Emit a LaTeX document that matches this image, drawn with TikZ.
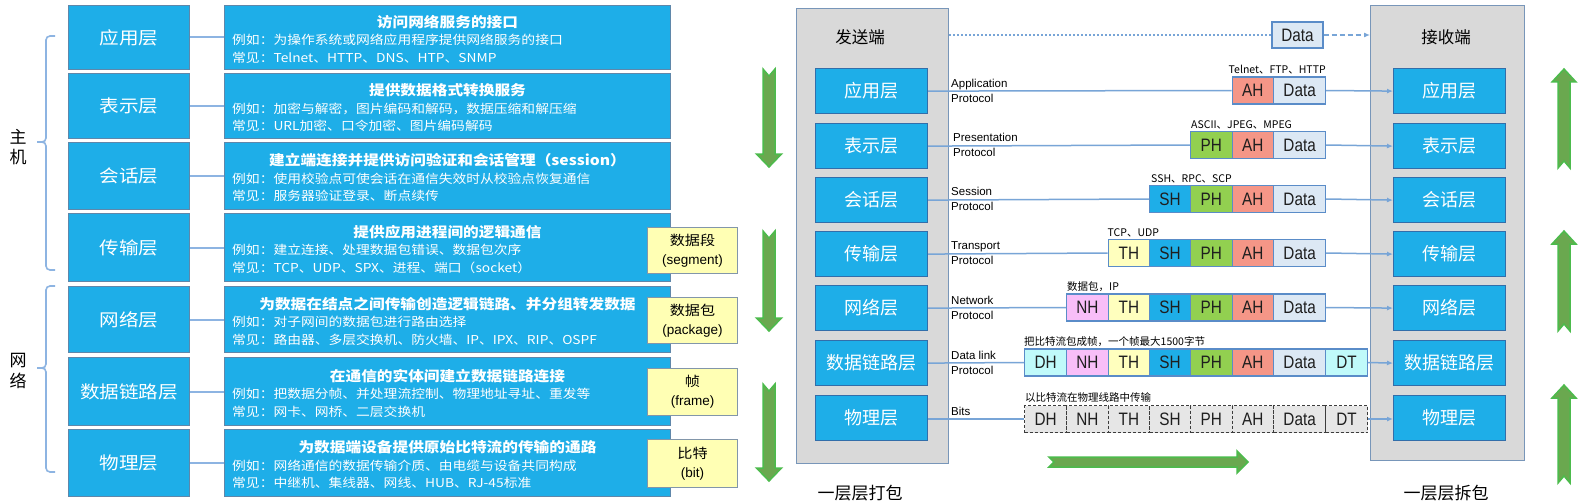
\documentclass[tikz,border=0pt]{standalone}
\usepackage{fontspec}
\setmainfont{Liberation Sans}
\newfontfamily\cjk{Noto Sans CJK SC}
\newfontfamily\cjkw[FakeStretch=1.12]{Noto Sans CJK SC}
\newfontfamily\narrow[FakeStretch=0.85]{Liberation Sans}
\usetikzlibrary{arrows.meta}

\definecolor{blueF}{RGB}{30,174,232}
\definecolor{blueB}{RGB}{95,135,170}
\definecolor{connC}{RGB}{141,180,226}
\definecolor{yelF}{RGB}{255,255,180}
\definecolor{yelB}{RGB}{130,150,170}
\definecolor{grayF}{RGB}{217,217,217}
\definecolor{grayB}{RGB}{120,150,185}
\definecolor{grnF}{RGB}{106,168,79}
\definecolor{grnB}{RGB}{76,187,76}
\definecolor{ahC}{RGB}{245,150,135}
\definecolor{phC}{RGB}{146,208,80}
\definecolor{thC}{RGB}{255,255,190}
\definecolor{nhC}{RGB}{248,190,248}
\definecolor{dhC}{RGB}{192,250,250}
\definecolor{daC}{RGB}{220,232,244}
\definecolor{cellB}{RGB}{90,140,200}
\definecolor{lineC}{RGB}{120,165,215}
\definecolor{bitF}{RGB}{230,230,230}

\newcommand\myfs[1]{\fontsize{#1}{#1}\selectfont}

\newcommand\leftrow[7]{%
\node[lbox,minimum width=121,minimum height={#3-#2},anchor=north west,font=\cjkw\myfs{17.5}] (L#1) at (68,#2) {#4};
\node[lbox,minimum width=446,minimum height={#3-#2},anchor=north west] (D#1) at (224,#2) {};
\draw[connL] (L#1.east) -- (D#1.west);
\node[wtext,font=\cjkw\bfseries\myfs{14}] (T#1) at ([yshift=15.5]D#1.center) {#5};
\node[wtext,anchor=west,font=\cjkw\myfs{12.3}] (E#1) at ([xshift=8,yshift=-2.5]D#1.west) {#6};
\node[wtext,anchor=west,font=\cjkw\myfs{12.3}] (C#1) at ([xshift=8,yshift=-20]D#1.west) {#7};
}

\newcommand\sidebox[4]{%
\node[sbox,minimum width=112,minimum height=45,anchor=north west] (#1) at (#2,#3) {#4};
}

\newcommand\pcell[6]{%
\node[cellbase,#5,minimum width={#3-#2},anchor=west] (#1) at (#2,#4) {#6};
}

\newcommand\garrowdown[3]{%
\filldraw[garrow] (#1-6,#2) -- (#1,#2+7) -- (#1+6,#2) -- (#1+6,#3-13) -- (#1+12.5,#3-13) -- (#1,#3) -- (#1-12.5,#3-13) -- (#1-6,#3-13) -- cycle;}
\newcommand\garrowup[3]{%
\filldraw[garrow] (#1-6,#3) -- (#1,#3-7) -- (#1+6,#3) -- (#1+6,#2+13) -- (#1+12,#2+13) -- (#1,#2) -- (#1-12,#2+13) -- (#1-6,#2+13) -- cycle;}

\begin{document}
\begin{tikzpicture}[x=1pt,y=-1pt,
  lbox/.style={rectangle,fill=blueF,draw=blueB,line width=1,inner sep=0,text=white},
  wtext/.style={text=white,inner sep=0},
  connL/.style={draw=connC,line width=2},
  ybox/.style={rectangle,fill=yelF,draw=yelB,line width=1,inner sep=0,align=center,
     minimum width=90,font=\fontsize{13.5}{19}\selectfont},
  brace/.style={draw=connC,line width=1.6,rounded corners=4},
  garrow/.style={fill=grnF,draw=grnB,line width=1.5},
  gbox/.style={rectangle,fill=grayF,draw=grayB,line width=1,inner sep=0},
  sbox/.style={rectangle,fill=blueF,draw={rgb,255:red,50;green,110;blue,170},line width=1.2,inner sep=0,text=white,font=\cjk\myfs{18}},
  cellbase/.style={rectangle,draw=cellB,line width=1.2,inner sep=0,minimum height=27,font=\narrow\myfs{18},text={rgb,255:red,30;green,30;blue,30}},
  bitcell/.style={fill=bitF,draw={rgb,255:red,60;green,60;blue,60},dash pattern=on 3pt off 2pt},
  pline/.style={draw=lineC,line width=1.5},
  parrow/.style={draw=lineC,line width=1.5,-{Latex[length=6,width=5]}},
  plabel/.style={anchor=west,align=left,inner sep=0,font=\fontsize{11.5}{15}\selectfont},
  toptext/.style={anchor=south west,inner sep=0,font=\cjk\myfs{10.5}},
]
\useasboundingbox (0,0) rectangle (1585,503);
\fill[white] (0,0) rectangle (1585,503);

% ---------------- left part ----------------
\leftrow{1}{5}{69}{应用层}{访问网络服务的接口}{例如：为操作系统或网络应用程序提供网络服务的接口}{常见：Telnet、HTTP、DNS、HTP、SNMP}
\leftrow{2}{73}{138}{表示层}{提供数据格式转换服务}{例如：加密与解密，图片编码和解码，数据压缩和解压缩}{常见：URL加密、口令加密、图片编码解码}
\leftrow{3}{142}{209}{会话层}{建立端连接并提供访问验证和会话管理（session）}{例如：使用校验点可使会话在通信失效时从校验点恢复通信}{常见：服务器验证登录、断点续传}
\leftrow{4}{213}{281}{传输层}{提供应用进程间的逻辑通信}{例如：建立连接、处理数据包错误、数据包次序}{常见：TCP、UDP、SPX、进程、端口（socket）}
\leftrow{5}{286}{352}{网络层}{为数据在结点之间传输创造逻辑链路、并分组转发数据}{例如：对子网间的数据包进行路由选择}{常见：路由器、多层交换机、防火墙、IP、IPX、RIP、OSPF}
\leftrow{6}{357}{425}{数据链路层}{在通信的实体间建立数据链路连接}{例如：把数据分帧、并处理流控制、物理地址寻址、重发等}{常见：网卡、网桥、二层交换机}
\leftrow{7}{429}{496}{物理层}{为数据端设备提供原始比特流的传输的通路}{例如：网络通信的数据传输介质、由电缆与设备共同构成}{常见：中继机、集线器、网线、HUB、RJ-45标准}

\node[ybox,minimum height=46,anchor=north west] (Y4) at (647,227) {{\cjkw 数据段}\\(segment)};
\node[ybox,minimum height=46,anchor=north west] (Y5) at (647,297) {{\cjkw 数据包}\\(package)};
\node[ybox,minimum height=47,anchor=north west] (Y6) at (647,368) {{\cjkw 帧}\\(frame)};
\node[ybox,minimum height=48,anchor=north west] (Y7) at (647,439) {{\cjkw 比特}\\(bit)};

% braces and group labels
\draw[brace] (55,36) -- (46,36) -- (46,142) -- (37,142);
\draw[brace] (37,142) -- (46,142) -- (46,270) -- (55,270);
\draw[brace] (55,286) -- (46,286) -- (46,368) -- (37,368);
\draw[brace] (37,368) -- (46,368) -- (46,472) -- (55,472);
\node[align=center,inner sep=0,font=\cjk\fontsize{17}{20.5}\selectfont] (host) at (18,147) {主\\机};
\node[align=center,inner sep=0,font=\cjk\fontsize{17}{20.5}\selectfont] (net) at (18,371) {网\\络};

% down arrows
\garrowdown{769}{69}{167}
\garrowdown{769}{231}{331}
\garrowdown{769}{384}{481}

% ---------------- right part ----------------
\node[gbox,minimum width=152,minimum height=455,anchor=north west] (SB) at (796,8) {};
\node[gbox,minimum width=154,minimum height=455,anchor=north west] (RB) at (1370,5) {};
\node[inner sep=0,font=\cjk\myfs{16.5}] (sendt) at (860,37) {发送端};
\node[inner sep=0,font=\cjk\myfs{16.5}] (recvt) at (1446,37) {接收端};

\sidebox{S1}{815}{68}{应用层}
\sidebox{S2}{815}{123}{表示层}
\sidebox{S3}{815}{177}{会话层}
\sidebox{S4}{815}{231}{传输层}
\sidebox{S5}{815}{285}{网络层}
\sidebox{S6}{815}{340}{数据链路层}
\sidebox{S7}{815}{395}{物理层}
\sidebox{R1}{1393}{68}{应用层}
\sidebox{R2}{1393}{123}{表示层}
\sidebox{R3}{1393}{177}{会话层}
\sidebox{R4}{1393}{231}{传输层}
\sidebox{R5}{1393}{285}{网络层}
\sidebox{R6}{1393}{340}{数据链路层}
\sidebox{R7}{1393}{395}{物理层}

% top data
\node[cellbase,fill=daC,minimum width=51,minimum height=26] (TD) at (1297.5,35) {Data};
\draw[draw=lineC,line width=1.5,dash pattern=on 2pt off 2pt] (SB.east |- TD.west) -- (TD.west);
\draw[draw=lineC,line width=1.5,dash pattern=on 5pt off 3pt,-{Latex[length=6,width=5]}] (TD.east) -- (RB.west |- TD.east);

% row 1
\pcell{a1}{1231.5}{1273}{90.5}{fill=ahC}{AH}
\pcell{d1}{1273}{1325}{90.5}{fill=daC}{Data}
% row 2
\pcell{p2}{1190}{1231.5}{145}{fill=phC}{PH}
\pcell{a2}{1231.5}{1273}{145}{fill=ahC}{AH}
\pcell{d2}{1273}{1325}{145}{fill=daC}{Data}
% row 3
\pcell{s3}{1149}{1190}{199}{fill=blueF}{SH}
\pcell{p3}{1190}{1231.5}{199}{fill=phC}{PH}
\pcell{a3}{1231.5}{1273}{199}{fill=ahC}{AH}
\pcell{d3}{1273}{1325}{199}{fill=daC}{Data}
% row 4
\pcell{t4}{1107.5}{1149}{253}{fill=thC}{TH}
\pcell{s4}{1149}{1190}{253}{fill=blueF}{SH}
\pcell{p4}{1190}{1231.5}{253}{fill=phC}{PH}
\pcell{a4}{1231.5}{1273}{253}{fill=ahC}{AH}
\pcell{d4}{1273}{1325}{253}{fill=daC}{Data}
% row 5
\pcell{n5}{1066}{1107.5}{307.5}{fill=nhC}{NH}
\pcell{t5}{1107.5}{1149}{307.5}{fill=thC}{TH}
\pcell{s5}{1149}{1190}{307.5}{fill=blueF}{SH}
\pcell{p5}{1190}{1231.5}{307.5}{fill=phC}{PH}
\pcell{a5}{1231.5}{1273}{307.5}{fill=ahC}{AH}
\pcell{d5}{1273}{1325}{307.5}{fill=daC}{Data}
% row 6
\pcell{h6}{1024}{1066}{362.5}{fill=dhC}{DH}
\pcell{n6}{1066}{1107.5}{362.5}{fill=nhC}{NH}
\pcell{t6}{1107.5}{1149}{362.5}{fill=thC}{TH}
\pcell{s6}{1149}{1190}{362.5}{fill=blueF}{SH}
\pcell{p6}{1190}{1231.5}{362.5}{fill=phC}{PH}
\pcell{a6}{1231.5}{1273}{362.5}{fill=ahC}{AH}
\pcell{d6}{1273}{1325}{362.5}{fill=daC}{Data}
\pcell{e6}{1325}{1367}{362.5}{fill=dhC}{DT}
% row 7
\pcell{h7}{1024}{1066}{419}{bitcell}{DH}
\pcell{n7}{1066}{1107.5}{419}{bitcell}{NH}
\pcell{t7}{1107.5}{1149}{419}{bitcell}{TH}
\pcell{s7}{1149}{1190}{419}{bitcell}{SH}
\pcell{p7}{1190}{1231.5}{419}{bitcell}{PH}
\pcell{a7}{1231.5}{1273}{419}{bitcell}{AH}
\pcell{d7}{1273}{1325}{419}{bitcell}{Data}
\pcell{e7}{1325}{1367}{419}{bitcell}{DT}

% protocol lines
\draw[pline] (S1.east) -- (a1.west);  \draw[parrow] (d1.east) -- (R1.west);
\draw[pline] (S2.east) -- (p2.west);  \draw[parrow] (d2.east) -- (R2.west);
\draw[pline] (S3.east) -- (s3.west);  \draw[parrow] (d3.east) -- (R3.west);
\draw[pline] (S4.east) -- (t4.west);  \draw[parrow] (d4.east) -- (R4.west);
\draw[pline] (S5.east) -- (n5.west);  \draw[parrow] (d5.east) -- (R5.west);
\draw[pline] (S6.east) -- (h6.west);  \draw[parrow] (e6.east) -- (R6.west);
\draw[pline] (S7.east |- h7.west) -- (h7.west);  \draw[parrow] (e7.east) -- (R7.west |- e7.east);

% protocol labels
\node[plabel] (pl1) at (951,90.5) {Application\\Protocol};
\node[plabel] (pl2) at (953,145) {Presentation\\Protocol};
\node[plabel] (pl3) at (951,199) {Session\\Protocol};
\node[plabel] (pl4) at (951,253) {Transport\\Protocol};
\node[plabel] (pl5) at (951,307.5) {Network\\Protocol};
\node[plabel] (pl6) at (951,362.5) {Data link\\Protocol};
\node[plabel,anchor=base west] (pl7) at (951,415) {Bits};

% texts above stacks
\node[toptext] (tt1) at ([xshift=-3,yshift=2]a1.north west) {Telnet、FTP、HTTP};
\node[toptext] (tt2) at ([xshift=1,yshift=2]p2.north west) {ASCII、JPEG、MPEG};
\node[toptext] (tt3) at ([xshift=2,yshift=2]s3.north west) {SSH、RPC、SCP};
\node[toptext] (tt4) at ([xshift=0,yshift=2]t4.north west) {TCP、UDP};
\node[toptext] (tt5) at ([xshift=1,yshift=2]n5.north west) {数据包，IP};
\node[toptext] (tt6) at ([xshift=0,yshift=2]h6.north west) {把比特流包成帧，一个帧最大1500字节};
\node[toptext] (tt7) at ([xshift=1,yshift=2]h7.north west) {以比特流在物理线路中传输};

% bottom arrow and labels
\filldraw[garrow] (1049,457) -- (1237,457) -- (1237,451) -- (1248,462) -- (1237,473) -- (1237,467) -- (1049,467) -- (1054,462) -- cycle;
\node[inner sep=0,font=\cjk\myfs{17}] (packt) at (860,493) {一层层打包};
\node[inner sep=0,font=\cjk\myfs{17}] (unpackt) at (1446,493) {一层层拆包};

% up arrows
\garrowup{1564}{69}{168}
\garrowup{1564}{231}{331}
\garrowup{1564}{385}{483}
\end{tikzpicture}
\end{document}
